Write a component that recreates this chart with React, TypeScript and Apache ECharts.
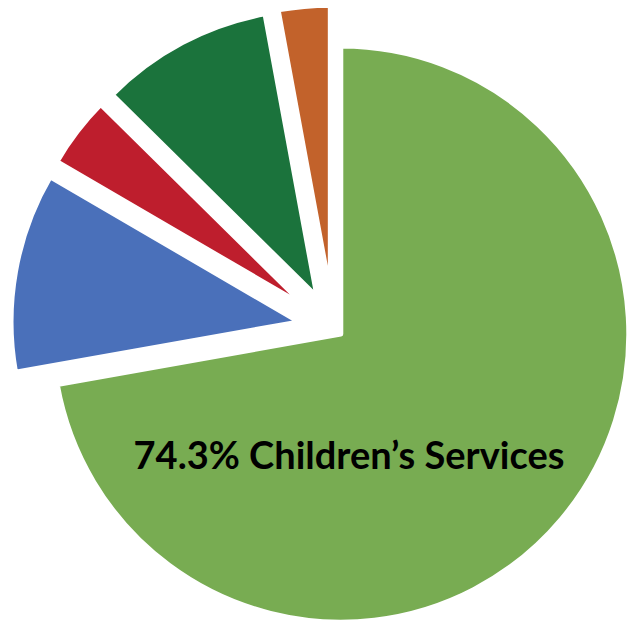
import { useEffect, useRef } from "react";
import * as echarts from "echarts";

const categories = ["Children’s Services", "Segment B", "Segment C", "Segment D", "Segment E"];
const values = [72.2, 11.2, 4.0, 9.7, 2.9];
const colors = ["#78AC52", "#4A70BA", "#BE1E2D", "#1B733C", "#C2622B"];
const labelText = "74.3% Children’s Services";

export default function App() {
  const ref = useRef<HTMLDivElement>(null);
  useEffect(() => {
    if (!ref.current) return;
    const chart = echarts.init(ref.current, undefined, { renderer: "svg" });
    const makeSeries = (isVisible: (i: number) => boolean, offset: number) => ({
      type: "pie",
      center: [333.5, 328],
      radius: 288,
      startAngle: 90,
      clockwise: true,
      selectedMode: "multiple",
      selectedOffset: offset,
      silent: true,
      avoidLabelOverlap: false,
      label: { show: false },
      labelLine: { show: false },
      emphasis: { disabled: true },
      data: values.map((v, i) => ({
        name: categories[i],
        value: v,
        selected: isVisible(i),
        itemStyle: isVisible(i)
          ? { color: colors[i], borderColor: "#ffffff", borderWidth: 5 }
          : { color: "rgba(0,0,0,0)", borderWidth: 0 },
      })),
    });
    chart.setOption({
      animation: false,
      backgroundColor: "#ffffff",
      series: [makeSeries((i) => i === 0, 9.5), makeSeries((i) => i !== 0, 35)],
      graphic: [
        {
          type: "text",
          x: 349,
          y: 454,
          z: 100,
          zlevel: 0,
          style: {
            text: labelText,
            font: "bold 38px Lato",
            fill: "#000000",
            textAlign: "center",
            textVerticalAlign: "middle",
          },
          silent: true,
        },
      ],
    });
    return () => chart.dispose();
  }, []);
  return (
    <div
      ref={ref}
      style={{ position: "absolute", left: 0, top: 0, width: 637, height: 622 }}
    />
  );
}
